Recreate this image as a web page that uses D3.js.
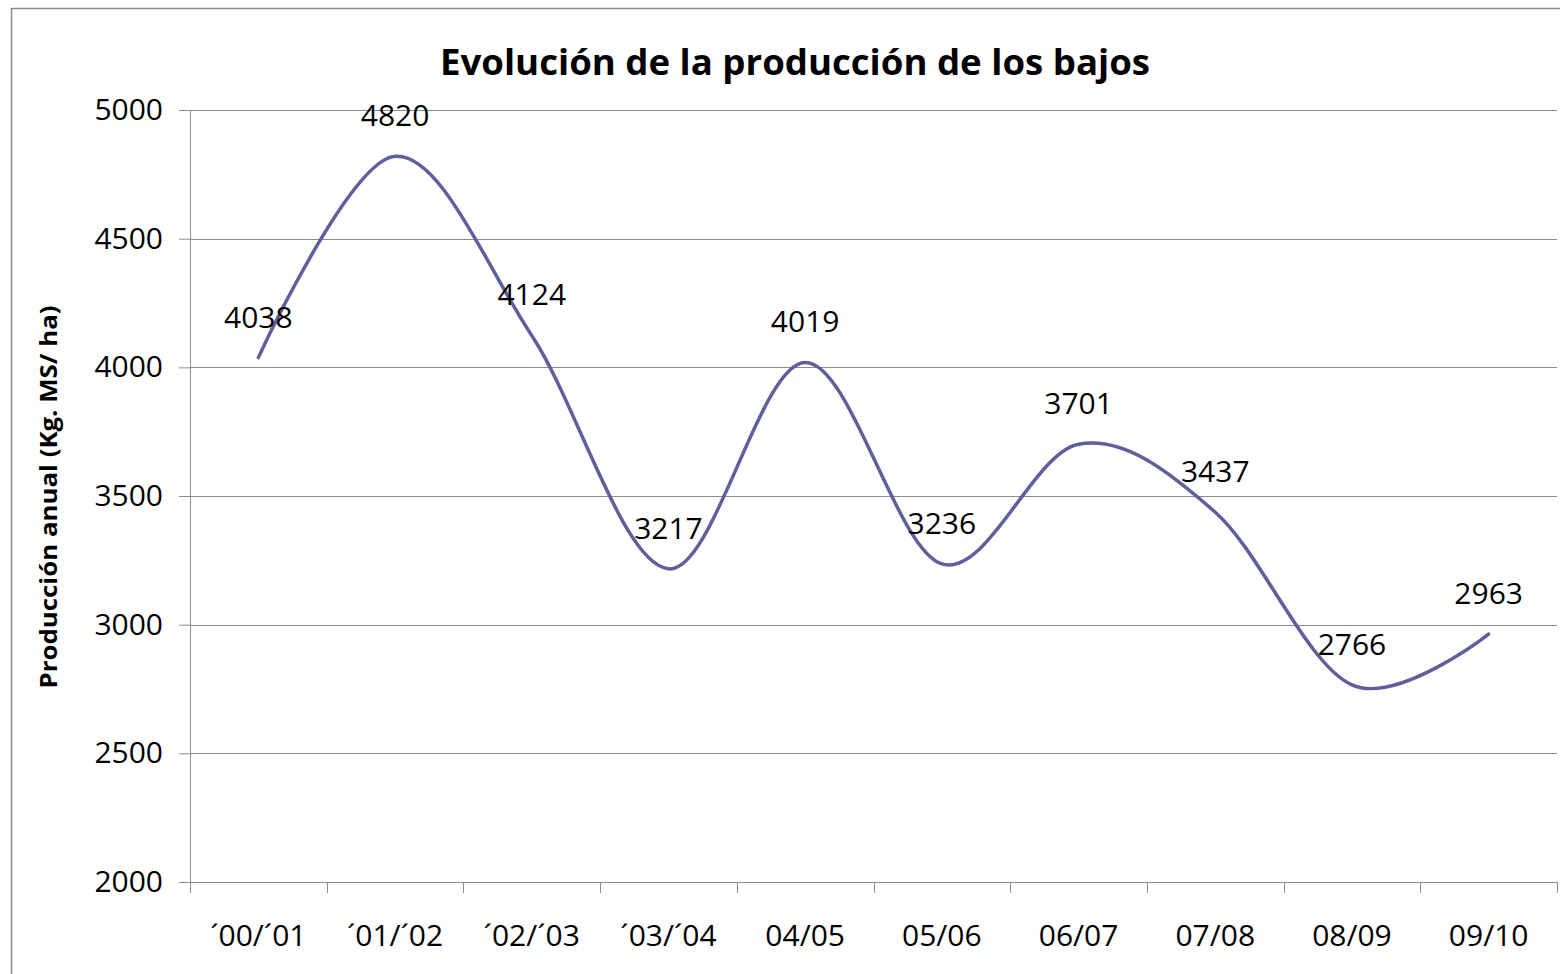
<!DOCTYPE html>
<html>
<head>
<meta charset="utf-8">
<script src="https://cdn.jsdelivr.net/npm/d3@7"></script>
<style>
  body { margin: 0; background: #fff; }
  svg text { font-family: "Open Sans", "Liberation Sans", sans-serif; fill: #000; }
</style>
</head>
<body>
<svg id="chart" width="1560" height="974"></svg>
<script>
// chart data
const categories = ["\u00B400/\u00B401", "\u00B401/\u00B402", "\u00B402/\u00B403", "\u00B403/\u00B404", "04/05", "05/06", "06/07", "07/08", "08/09", "09/10"];
const production = [4038, 4820, 4124, 3217, 4019, 3236, 3701, 3437, 2766, 2963];
const yTicks = [2000, 2500, 3000, 3500, 4000, 4500, 5000];

const titleText = "Evolución de la producción de los bajos";
const yLabelText = "Producción anual (Kg. MS/ ha)";

const margin = { top: 110, right: 3, bottom: 92, left: 190 };
const W = 1560, H = 974;
const plotW = W - margin.left - margin.right;
const plotH = H - margin.top - margin.bottom;

const svg = d3.select("#chart");

// outer chart border
svg.append("rect")
  .attr("x", 11.5).attr("y", 8.5)
  .attr("width", W).attr("height", H)
  .attr("fill", "none")
  .attr("stroke", "#8a8a8a")
  .attr("stroke-width", 1.5);

const g = svg.append("g").attr("transform", `translate(${margin.left},${margin.top})`);

const x = d3.scaleBand().domain(categories).range([0, plotW]);
const y = d3.scaleLinear().domain([2000, 5000]).range([plotH, 0]);

// horizontal gridlines
g.selectAll(".grid")
  .data(yTicks.filter(t => t > 2000))
  .enter()
  .append("line")
  .attr("class", "grid")
  .attr("x1", 0).attr("x2", plotW)
  .attr("y1", d => Math.round(y(d)) + 0.5)
  .attr("y2", d => Math.round(y(d)) + 0.5)
  .attr("stroke", "#8c8c8c")
  .attr("stroke-width", 1);

// y axis
const yAxis = g.append("g")
  .call(d3.axisLeft(y).tickValues(yTicks).tickSize(11).tickPadding(16).tickFormat(d3.format("d")));
yAxis.select(".domain").attr("stroke", "#8c8c8c");
yAxis.selectAll(".tick line").attr("stroke", "#8c8c8c");
yAxis.selectAll(".tick text")
  .attr("font-size", 30)
  .attr("font-family", "'Open Sans', sans-serif")
  .attr("fill", "#000");

// x axis - ticks on band edges
const xAxis = g.append("g").attr("transform", `translate(0,${plotH})`);
xAxis.append("line")
  .attr("x1", 0).attr("x2", plotW)
  .attr("y1", 0.5).attr("y2", 0.5)
  .attr("stroke", "#8c8c8c");
const edges = categories.map(c => x(c)).concat([plotW]);
xAxis.selectAll(".xtick")
  .data(edges)
  .enter()
  .append("line")
  .attr("class", "xtick")
  .attr("x1", d => Math.round(d) + 0.5).attr("x2", d => Math.round(d) + 0.5)
  .attr("y1", 0).attr("y2", 11)
  .attr("stroke", "#8c8c8c");
xAxis.selectAll(".xlabel")
  .data(categories)
  .enter()
  .append("text")
  .attr("class", "xlabel")
  .attr("x", d => x(d) + x.bandwidth() / 2)
  .attr("y", 64)
  .attr("text-anchor", "middle")
  .attr("font-size", 30)
  .text(d => d);

// smoothed line
const line = d3.line()
  .x((d, i) => x(categories[i]) + x.bandwidth() / 2)
  .y(d => y(d))
  .curve(d3.curveCardinal.tension(0));

g.append("path")
  .datum(production)
  .attr("d", line)
  .attr("fill", "none")
  .attr("stroke", "#5f5f9c")
  .attr("stroke-width", 3.5)
  .attr("stroke-linecap", "round")
  .attr("stroke-linejoin", "round");

// data labels
g.selectAll(".dlabel")
  .data(production)
  .enter()
  .append("text")
  .attr("class", "dlabel")
  .attr("x", (d, i) => x(categories[i]) + x.bandwidth() / 2)
  .attr("y", d => y(d) - 30)
  .attr("text-anchor", "middle")
  .attr("font-size", 30)
  .text(d => d);

// title
svg.append("text")
  .attr("x", 795)
  .attr("y", 75)
  .attr("text-anchor", "middle")
  .attr("font-size", 36)
  .attr("font-weight", "bold")
  .attr("textLength", 710)
  .attr("lengthAdjust", "spacingAndGlyphs")
  .text(titleText);

// y axis label
svg.append("text")
  .attr("transform", "translate(57,497) rotate(-90)")
  .attr("text-anchor", "middle")
  .attr("font-size", 24)
  .attr("font-weight", "bold")
  .attr("textLength", 383)
  .attr("lengthAdjust", "spacingAndGlyphs")
  .text(yLabelText);
</script>
</body>
</html>
